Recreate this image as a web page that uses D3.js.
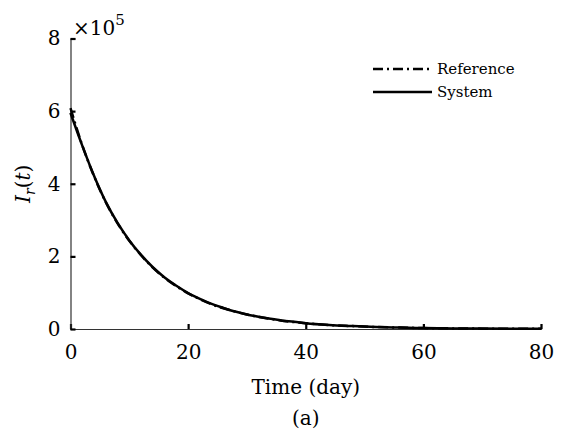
<!DOCTYPE html>
<html>
<head>
<meta charset="utf-8">
<script src="https://cdn.jsdelivr.net/npm/d3@7"></script>
<style>
  html, body { margin: 0; padding: 0; background: #fff; }
  svg { display: block; }
  text { font-family: "DejaVu Serif", serif; fill: #000; }
</style>
</head>
<body>
<svg id="chart" width="562" height="434"></svg>
<script>
// Time axis (days) and infected population I_r(t), in units of 1e5
const days = [0, 2, 4, 6, 8, 10, 12, 14, 16, 18, 20, 22, 24, 26, 28, 30, 32, 34, 36, 38, 40,
              44, 48, 52, 56, 60, 65, 70, 75, 80];
const systemVals = [5.95, 5.05, 4.22, 3.50, 2.92, 2.44, 2.04, 1.70, 1.42, 1.19, 0.99, 0.83, 0.69,
                    0.58, 0.48, 0.40, 0.34, 0.28, 0.23, 0.20, 0.16, 0.11, 0.08, 0.055, 0.039,
                    0.027, 0.017, 0.011, 0.007, 0.004];
const referenceVals = [6.08, 5.06, 4.21, 3.49, 2.91, 2.43, 2.03, 1.69, 1.41, 1.18, 0.98, 0.82, 0.68,
                       0.57, 0.48, 0.40, 0.33, 0.28, 0.23, 0.19, 0.16, 0.11, 0.08, 0.054, 0.038,
                       0.026, 0.016, 0.010, 0.006, 0.004];
const xTicks = [0, 20, 40, 60, 80];
const yTicks = [0, 2, 4, 6, 8];
const seriesNames = ["Reference", "System"];

const svg = d3.select("#chart");
const margin = { left: 70.5, right: 21, top: 38.5, bottom: 105 };
const W = 562, H = 434;

const x = d3.scaleLinear().domain([0, 80]).range([margin.left, W - margin.right]);
const y = d3.scaleLinear().domain([0, 8]).range([H - margin.bottom, margin.top]);

// Axes: ticks pointing inward, no frame on top/right
const xAxis = svg.append("g")
  .attr("transform", `translate(0,${y(0)})`)
  .call(d3.axisBottom(x).tickValues(xTicks).tickSize(-5).tickPadding(16).tickFormat(d3.format("d")));
const yAxis = svg.append("g")
  .attr("transform", `translate(${x(0)},0)`)
  .call(d3.axisLeft(y).tickValues(yTicks).tickSize(-5).tickPadding(10).tickFormat(d3.format("d")));

[xAxis, yAxis].forEach(g => {
  g.select(".domain").attr("stroke", "#333").attr("stroke-width", 1.2);
  g.selectAll(".tick line").attr("stroke", "#000").attr("stroke-width", 2.2);
  g.selectAll(".tick text").style("font-family", "DejaVu Serif, serif").style("font-size", "20px").attr("fill", "#000");
});

// Exponent label
const expo = svg.append("text").attr("x", 73).attr("y", 35).style("font-size", "20px");
expo.append("tspan").text("×10");
expo.append("tspan").attr("dy", -10).style("font-size", "15px").text("5");

// Axis titles
svg.append("text")
  .attr("x", (x(0) + x(80)) / 2).attr("y", 394)
  .attr("text-anchor", "middle").style("font-size", "20px")
  .text("Time (day)");
svg.append("text")
  .attr("x", (x(0) + x(80)) / 2).attr("y", 425)
  .attr("text-anchor", "middle").style("font-size", "20px")
  .text("(a)");

const yl = svg.append("text")
  .attr("transform", `translate(30,${(y(0) + y(8)) / 2}) rotate(-90)`)
  .attr("text-anchor", "middle").style("font-size", "20px").style("font-style", "italic");
yl.append("tspan").text("I");
yl.append("tspan").attr("dy", 5).style("font-size", "14px").text("r");
yl.append("tspan").attr("dy", -5).style("font-style", "normal").text("(");
yl.append("tspan").text("t");
yl.append("tspan").style("font-style", "normal").text(")");

// Curves
const line = d3.line()
  .x((d, i) => x(days[i]))
  .y(d => y(d))
  .curve(d3.curveMonotoneX);

svg.append("path")
  .datum(referenceVals)
  .attr("fill", "none").attr("stroke", "#000").attr("stroke-width", 2.5)
  .attr("stroke-dasharray", "10,4,2,4")
  .attr("d", line);
svg.append("path")
  .datum(systemVals)
  .attr("fill", "none").attr("stroke", "#000").attr("stroke-width", 2.5)
  .attr("d", line);

// Legend
const legend = svg.append("g").attr("transform", "translate(373,0)");
const legY = [69, 92];
seriesNames.forEach((name, i) => {
  legend.append("line")
    .attr("x1", 0).attr("x2", 59).attr("y1", legY[i]).attr("y2", legY[i])
    .attr("stroke", "#000").attr("stroke-width", 2.5)
    .attr("stroke-dasharray", i === 0 ? "10,4,2,4" : null);
  legend.append("text")
    .attr("x", 64).attr("y", legY[i] + 5)
    .style("font-size", "15px")
    .text(name);
});
</script>
</body>
</html>
